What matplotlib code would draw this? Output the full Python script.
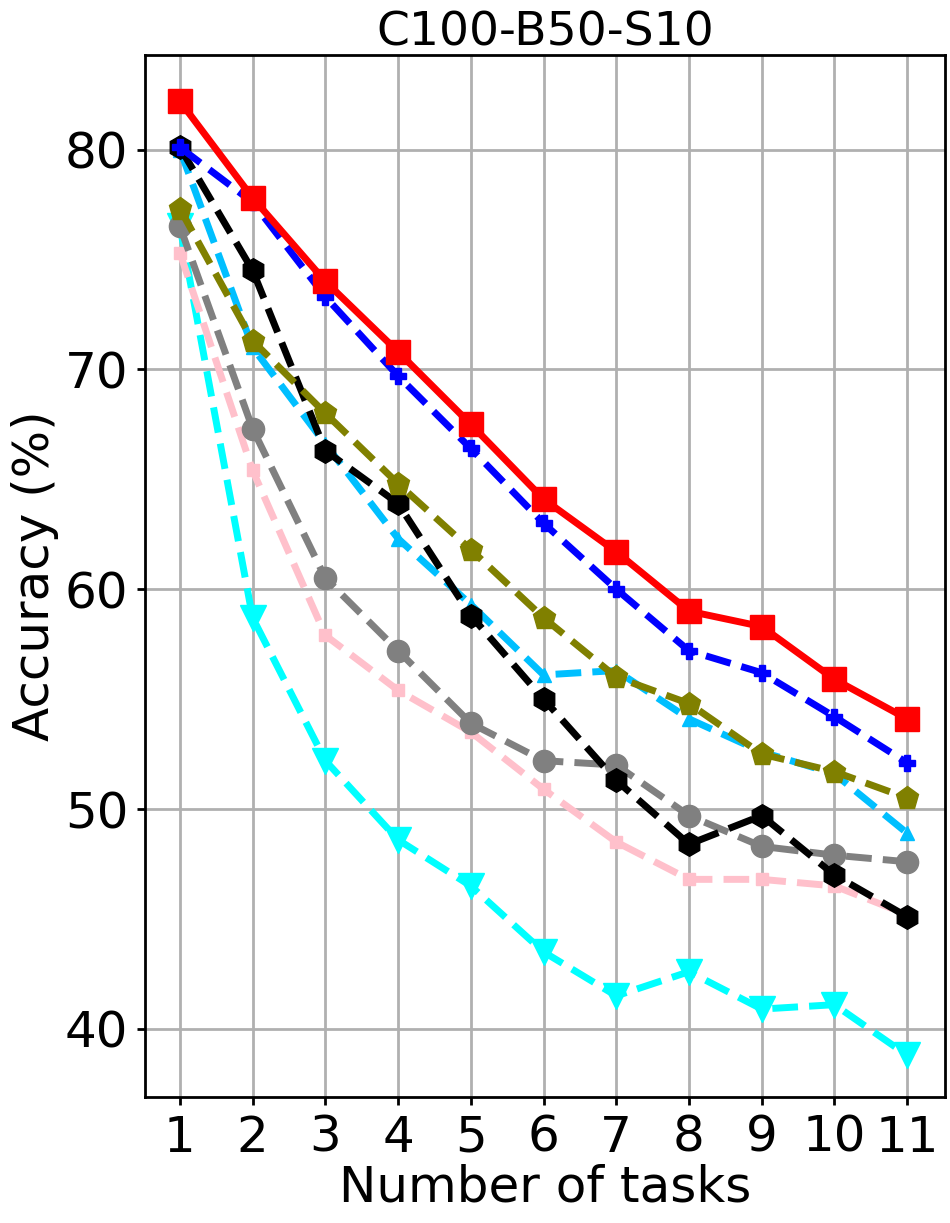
import numpy as np
import matplotlib
matplotlib.use("Agg")
import matplotlib.pyplot as plt

# tareas
tasks = np.arange(1, 12)

# precisiones (%)
red_acc = [82.2, 77.8, 74.0, 70.8, 67.5, 64.1, 61.7, 59.0, 58.3, 55.9, 54.1]
blue_acc = [80.1, 77.6, 73.3, 69.7, 66.4, 63.0, 60.0, 57.2, 56.2, 54.2, 52.1]
olive_acc = [77.3, 71.3, 68.0, 64.8, 61.8, 58.7, 56.0, 54.8, 52.5, 51.7, 50.5]
black_acc = [80.1, 74.5, 66.3, 63.9, 58.8, 55.0, 51.3, 48.4, 49.7, 47.0, 45.1]
skyblue_acc = [80.0, 71.0, 66.6, 62.3, 59.3, 56.1, 56.3, 54.1, 52.6, 51.6, 48.9]
gray_acc = [76.5, 67.3, 60.5, 57.2, 53.9, 52.2, 52.0, 49.7, 48.3, 47.9, 47.6]
pink_acc = [75.3, 65.4, 57.9, 55.4, 53.5, 50.9, 48.5, 46.8, 46.8, 46.5, 45.2]
cyan_acc = [76.5, 58.7, 52.2, 48.6, 46.5, 43.5, 41.5, 42.6, 40.9, 41.1, 38.8]

plt.rcParams['font.size'] = 36

fig = plt.figure(figsize=(9.5, 12.23), dpi=100)
ax = fig.add_axes([145/950, 1 - 1097/1223, 800/950, 1042/1223])

ax.plot(tasks, cyan_acc, 'v--', color='cyan', lw=5, ms=19)
ax.plot(tasks, pink_acc, 's--', color='pink', lw=5, ms=9)
ax.plot(tasks, gray_acc, 'o--', color='gray', lw=5, ms=16)
ax.plot(tasks, skyblue_acc, '^--', color='deepskyblue', lw=5, ms=10)
ax.plot(tasks, black_acc, 'h--', color='black', lw=5, ms=17)
ax.plot(tasks, olive_acc, 'p--', color='olive', lw=5, ms=17)
ax.plot(tasks, blue_acc, 'P--', color='blue', lw=5, ms=12)
ax.plot(tasks, red_acc, 's-', color='red', lw=5, ms=17)

ax.set_xlim(0.52, 11.52)
ax.set_ylim(36.9, 84.3)
ax.set_xticks(tasks)
ax.set_yticks([40, 50, 60, 70, 80])
ax.grid(True, color='#b0b0b0', lw=2)
for s in ax.spines.values():
    s.set_linewidth(2)
ax.tick_params(width=2, length=6, pad=6)
ax.set_xlabel('Number of tasks', labelpad=1)
ax.set_ylabel('Accuracy (%)')
ax.set_title('C100-B50-S10', pad=3, fontsize=34)

fig.savefig('out.png', dpi=100)
